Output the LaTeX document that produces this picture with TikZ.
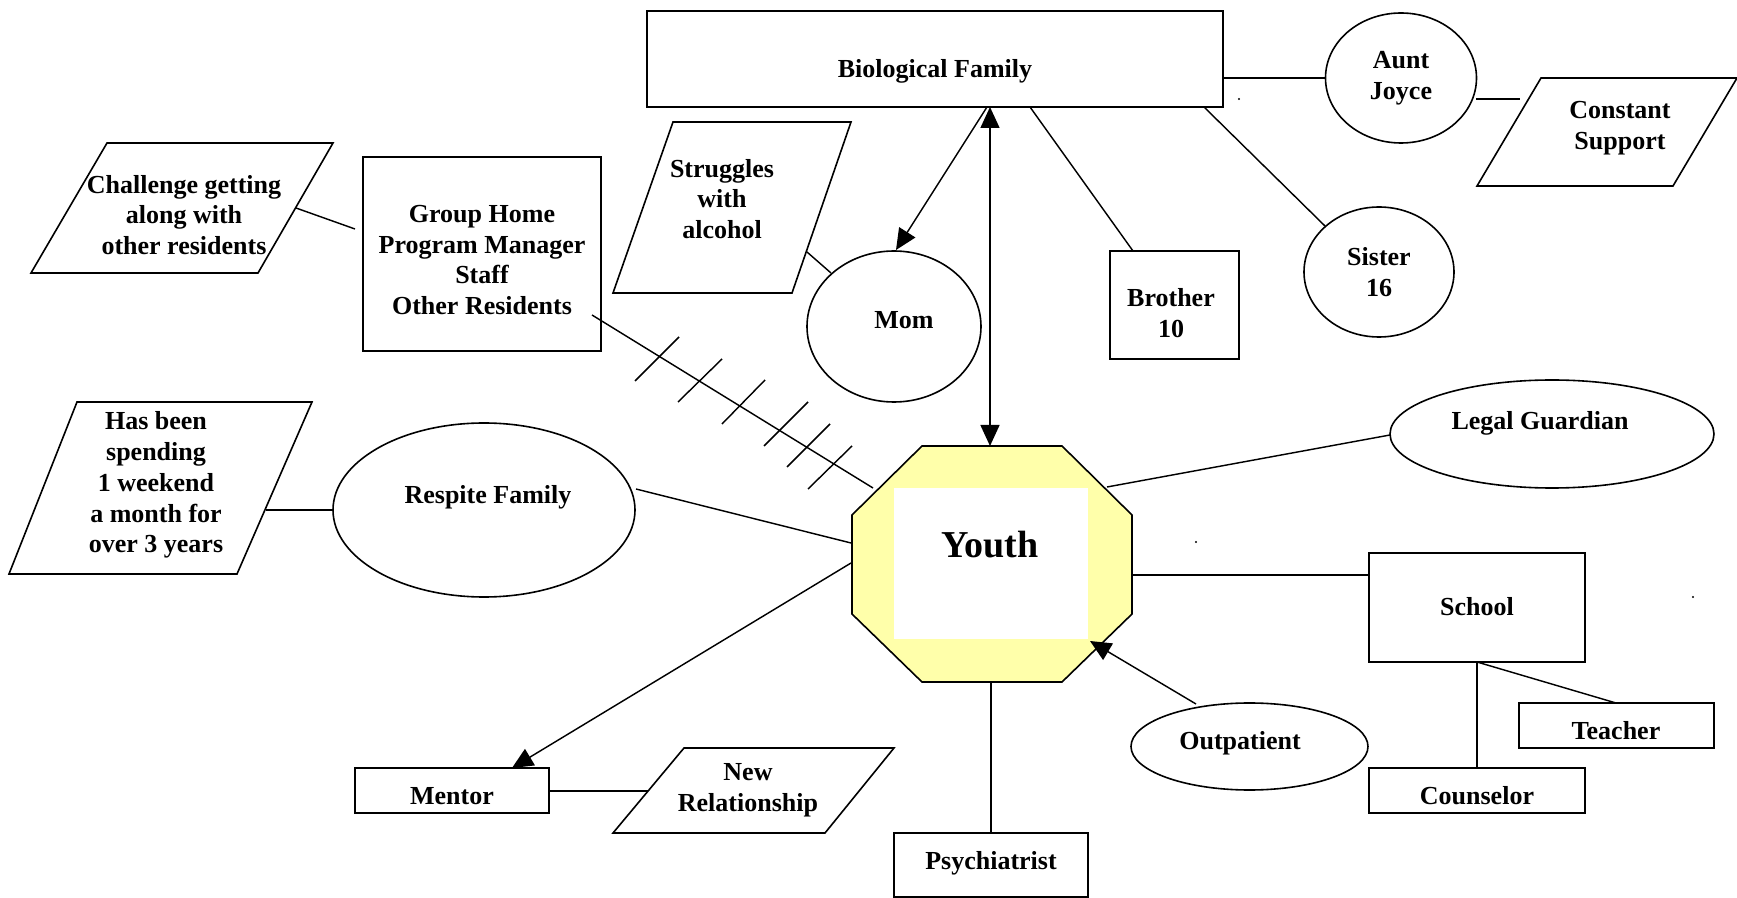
\documentclass[tikz,border=0pt]{standalone}
\usepackage{fontspec}
\setmainfont{Liberation Serif}
\usetikzlibrary{shapes.geometric,arrows.meta}
\definecolor{youthyellow}{RGB}{255,255,170}
\begin{document}
\begin{tikzpicture}[x=0.5pt,y=-0.5pt,
  shp/.style={draw, line width=0.8pt, inner sep=0pt, outer sep=0pt},
  box/.style={shp, rectangle},
  oval/.style={shp, ellipse},
  para/.style={draw, line width=0.8pt, line join=miter},
  conn/.style={line width=0.72pt},
  arr/.style={conn, -{Triangle[length=10.5pt,width=9.5pt]}},
  dbl/.style={conn, {Triangle[length=10.5pt,width=9.5pt]}-{Triangle[length=10.5pt,width=9.5pt]}},
  lbl/.style={align=center, inner sep=0pt, font=\bfseries\fontsize{13}{15.4}\selectfont},
]
\useasboundingbox (0,0) rectangle (1737,898);

% ---------- shapes ----------
\node[box, minimum width=288pt, minimum height=48pt] (bf) at (935,59) {};
\node[oval, minimum width=75.5pt, minimum height=65pt] (aunt) at (1401,78) {};
\node[oval, minimum width=75pt, minimum height=65pt] (sister) at (1379,272) {};
\node[box, minimum width=64.5pt, minimum height=54pt] (brother) at (1174.5,305) {};
\node[oval, minimum width=87pt, minimum height=75.5pt] (mom) at (894,326.5) {};
\node[box, minimum width=119pt, minimum height=97pt] (group) at (482,254) {};
\node[oval, minimum width=151pt, minimum height=87pt] (respite) at (484,510) {};
\node[oval, minimum width=162pt, minimum height=54pt] (legal) at (1552,434) {};
\node[box, minimum width=108pt, minimum height=54.5pt] (school) at (1477,607.5) {};
\node[box, minimum width=97.5pt, minimum height=22.5pt] (teacher) at (1616.5,725.5) {};
\node[box, minimum width=108pt, minimum height=22.5pt] (counselor) at (1477,790.5) {};
\node[oval, minimum width=118.5pt, minimum height=43.5pt] (outpatient) at (1249.5,746.5) {};
\node[box, minimum width=97pt, minimum height=32pt] (psych) at (991,865) {};
\node[box, minimum width=97pt, minimum height=22.5pt] (mentor) at (452,790.5) {};

% parallelograms
\draw[para] (1541,78) -- (1737,78) -- (1673,186) -- (1477,186) -- cycle;
\draw[para] (673,122) -- (851,122) -- (792,293) -- (613,293) -- cycle;
\draw[para] (107,143) -- (333,143) -- (258,273) -- (31,273) -- cycle;
\draw[para] (77,402) -- (312,402) -- (237,574) -- (9,574) -- cycle;
\draw[para] (684,748) -- (894,748) -- (825,833) -- (613,833) -- cycle;

% youth octagon
\draw[line width=0.8pt, fill=youthyellow] (922,446) -- (1062,446) -- (1132,515) -- (1132,614)
  -- (1062,682) -- (922,682) -- (852,614) -- (852,515) -- cycle;
\fill[white] (894,488) rectangle (1088,639);

% ---------- labels ----------
\node[lbl] (tbf) at (935,71) {Biological Family};
\node[lbl] (taunt) at (1401,78) {Aunt\\Joyce};
\node[lbl] (tconst) at (1620,128) {Constant\\Support};
\node[lbl] (tchal) at (184,215) {Challenge getting\\along with\\other residents};
\node[lbl] (tgroup) at (482,260) {Group Home\\Program Manager\\Staff\\Other Residents};
\node[lbl] (tstrug) at (722,199) {Struggles\\with\\alcohol};
\node[lbl] (tmom) at (904,320) {Mom};
\node[lbl] (tbro) at (1171,313) {Brother\\10};
\node[lbl] (tsis) at (1379,272) {Sister\\16};
\node[lbl] (thas) at (156,485) {Has been\\spending\\1 weekend\\a month for\\over 3 years};
\node[lbl] (tresp) at (488,497) {Respite Family};
\node[lbl, font=\bfseries\fontsize{19}{22}\selectfont] (youth) at (990,545) {Youth};
\node[lbl] (tlegal) at (1540,423) {Legal Guardian};
\node[lbl] (tschool) at (1477,607) {School};
\node[lbl] (tteach) at (1616,731) {Teacher};
\node[lbl] (tcouns) at (1477,796) {Counselor};
\node[lbl] (tout) at (1240,743) {Outpatient};
\node[lbl] (tpsych) at (991,863) {Psychiatrist};
\node[lbl] (tment) at (452,796) {Mentor};
\node[lbl] (tnew) at (748,790) {New\\Relationship};

% ---------- connector end points ----------
\coordinate (auntE) at (1476,99);
\coordinate (constW) at (1520,99);
\coordinate (bfBro) at (1030,107);
\coordinate (broN) at (1133,251);
\coordinate (bfSis) at (1204,107);
\coordinate (sisNW) at (1325,226);
\coordinate (bfMom) at (987,107);
\coordinate (momN) at (896,250);
\coordinate (bfY) at (990,107);
\coordinate (youthN) at (990,446);
\coordinate (strugSE) at (807,252);
\coordinate (momNW) at (831,273);
\coordinate (chalE) at (296,208);
\coordinate (groupW) at (355,229);
\coordinate (groupSE) at (592,315);
\coordinate (youthNW) at (873,488);
\coordinate (hasE) at (266,510);
\coordinate (respW) at (333,510);
\coordinate (respE) at (636,489);
\coordinate (youthW) at (851,543);
\coordinate (youthSW) at (851,563);
\coordinate (mentorN) at (512,768);
\coordinate (mentorE) at (549,791);
\coordinate (newW) at (648,791);
\coordinate (youthS) at (991,682);
\coordinate (outNW) at (1196,704);
\coordinate (youthSE) at (1090,641);
\coordinate (youthE) at (1132,575);
\coordinate (youthNE) at (1107,487);
\coordinate (legalW) at (1390,435);
\coordinate (schoolS) at (1477,662);
\coordinate (teachN) at (1616,703);

% ---------- connectors ----------
\draw[conn] (aunt.west -| bf.east) -- (aunt.west);
\draw[conn] (auntE) -- (constW);
\draw[conn] (bfBro) -- (broN);
\draw[conn] (bfSis) -- (sisNW);
\draw[arr] (bfMom) -- (momN);
\draw[dbl] (bfY) -- (youthN);
\draw[conn] (strugSE) -- (momNW);
\draw[conn] (chalE) -- (groupW);
\draw[conn] (groupSE) -- (youthNW);
\draw[conn] (hasE) -- (respW);
\draw[conn] (respE) -- (youthW);
\draw[arr] (youthSW) -- (mentorN);
\draw[conn] (mentorE) -- (newW);
\draw[conn] (youthS) -- (psych.north);
\draw[arr] (outNW) -- (youthSE);
\draw[conn] (youthE) -- (youthE -| school.west);
\draw[conn] (youthNE) -- (legalW);
\draw[conn] (schoolS) -- (teachN);
\draw[conn] (schoolS) -- (counselor.north);

% hatch marks on the group home line
\draw[conn] (635,381) -- (679,337);
\draw[conn] (678,402) -- (722,359);
\draw[conn] (722,424) -- (765,380);
\draw[conn] (764,446) -- (808,402);
\draw[conn] (787,467) -- (830,424);
\draw[conn] (808,489) -- (852,446);

% stray dots
\fill (1239,99) circle (0.6pt);
\fill (1196,542) circle (0.6pt);
\fill (1693,597) circle (0.6pt);
\end{tikzpicture}
\end{document}
